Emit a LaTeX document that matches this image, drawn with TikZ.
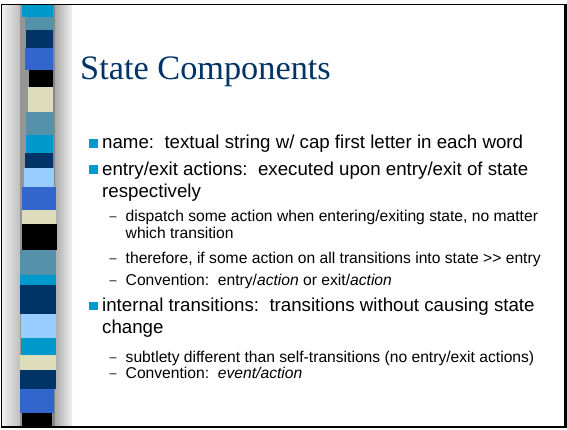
\documentclass[tikz,border=0pt]{standalone}
\usepackage{fontspec}
\setmainfont{Liberation Serif}
\setsansfont{Liberation Sans}
\newfontfamily\bodyfont{Liberation Sans}
\definecolor{titleblue}{RGB}{0,51,102}
\definecolor{bulletcyan}{RGB}{0,153,204}
\definecolor{cyanband}{RGB}{0,153,204}
\definecolor{steelband}{RGB}{85,145,170}
\definecolor{navyband}{RGB}{0,51,102}
\definecolor{royalband}{RGB}{51,102,204}
\definecolor{beigeband}{RGB}{221,221,187}
\definecolor{skyband}{RGB}{153,204,255}
\definecolor{blackband}{RGB}{0,0,0}
\definecolor{railpale}{RGB}{240,240,240}
\definecolor{railmid}{RGB}{190,190,190}
\definecolor{raildark}{RGB}{150,150,150}
\definecolor{railedge}{RGB}{136,136,136}
\tikzset{
  titletext/.style={anchor=base west, inner sep=0pt, text=titleblue, font=\fontsize{34.3}{38}\selectfont},
  lvlone/.style={anchor=base west, inner sep=0pt, font=\bodyfont\fontsize{18.7}{22}\selectfont},
  lvltwo/.style={anchor=base west, inner sep=0pt, font=\bodyfont\fontsize{15.65}{18}\selectfont},
  sqbullet/.style={fill=bulletcyan, draw=none, minimum size=8.5pt, inner sep=0pt},
  dashmark/.style={anchor=base west, inner sep=0pt, yshift=0.8pt, font=\bodyfont\fontsize{12.5}{14}\selectfont},
}
% colour block of the side band: x from, x to, top row, bottom row (rows counted from the top)
\newcommand{\bandseg}[5]{\fill[#1] (#2,429-#4) rectangle (#3,429-#5);}
\begin{document}
\begin{tikzpicture}[x=1pt,y=1pt]
\useasboundingbox (0,0) rectangle (567,429);
\fill[white] (0,0) rectangle (567,429);

% side band: grey rails
\shade[left color=railpale, right color=railmid] (2.5,3) rectangle (20,424.5);
\fill[raildark] (20,3) rectangle (53,424.5);
\fill[railedge] (52,3) rectangle (55,424.5);
\shade[left color=raildark!80, right color=railpale] (55,3) rectangle (72,424.5);

% side band: colour blocks
\bandseg{cyanband}{22}{53}{5}{17}
\bandseg{steelband}{25}{53}{17}{30}
\bandseg{navyband}{26}{53}{30}{48}
\bandseg{royalband}{25}{53}{48}{70}
\bandseg{blackband}{29}{53}{70}{87}
\bandseg{beigeband}{28}{53}{87}{112}
\bandseg{steelband}{26}{53}{112}{135}
\bandseg{cyanband}{26}{53}{135}{153}
\bandseg{navyband}{25}{53}{153}{168}
\bandseg{skyband}{24}{54}{168}{187}
\bandseg{royalband}{22}{56}{187}{210}
\bandseg{beigeband}{22}{56}{210}{224}
\bandseg{blackband}{22}{57}{224}{250}
\bandseg{steelband}{20}{56}{250}{275}
\bandseg{cyanband}{20}{56}{275}{285}
\bandseg{navyband}{20}{56}{285}{314}
\bandseg{skyband}{21}{56}{314}{338}
\bandseg{cyanband}{21}{56}{338}{355}
\bandseg{beigeband}{20}{56}{355}{370}
\bandseg{navyband}{20}{56}{370}{389}
\bandseg{royalband}{20}{54}{389}{413}
\bandseg{blackband}{22}{52}{413}{426}

% slide frame: thin top and left edges, heavier right and bottom edges
\draw[black, line width=1.5pt] (1.5,1.5) -- (1.5,424.5) -- (565,424.5);
\draw[black, line width=2pt] (1.5,2.5) -- (566,2.5);
\draw[black, line width=3pt] (565,1.5) -- (565,425.2);

% title
\node[titletext] (title) at (80,429-80) {State Components};

% first level items
\node[sqbullet] (b1) at (93.5,429-143.5) {};
\node[lvlone] (t1) at (102,429-149) {name:\ \ textual string w/ cap first letter in each word};

\node[sqbullet] (b2) at (93.5,429-169.5) {};
\node[lvlone] (t2) at (102,429-175) {entry/exit actions:\ \ executed upon entry/exit of state};
\node[lvlone] (t2b) at (102,429-197) {respectively};

% second level items under entry/exit actions
\node[dashmark] (d1) at (109.5,429-221.5) {\textendash};
\node[lvltwo] (s1) at (125.5,429-221.5) {dispatch some action when entering/exiting state, no matter};
\node[lvltwo] (s1b) at (125.5,429-238) {which transition};
\node[dashmark] (d2) at (109.5,429-263) {\textendash};
\node[lvltwo] (s2) at (125.5,429-263) {therefore, if some action on all transitions into state >> entry};
\node[dashmark] (d3) at (109.5,429-285) {\textendash};
\node[lvltwo] (s3) at (125.5,429-285) {Convention:\ \ entry/\textit{action} or exit/\textit{action}};

\node[sqbullet] (b3) at (93.5,429-306) {};
\node[lvlone] (t3) at (102,429-311.5) {internal transitions:\ \ transitions without causing state};
\node[lvlone] (t3b) at (102,429-333) {change};

% second level items under internal transitions
\node[dashmark] (d4) at (109.5,429-362.5) {\textendash};
\node[lvltwo] (s4) at (125.5,429-362.5) {subtlety different than self-transitions (no entry/exit actions)};
\node[dashmark] (d5) at (109.5,429-378) {\textendash};
\node[lvltwo] (s5) at (125.5,429-378) {Convention:\ \ \textit{event/action}};
\end{tikzpicture}
\end{document}
